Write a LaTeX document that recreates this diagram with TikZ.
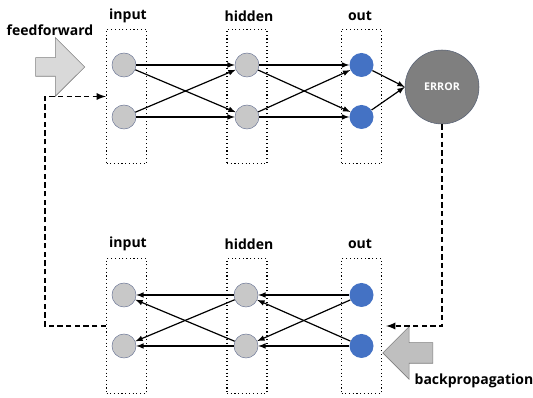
\documentclass[tikz,border=0pt]{standalone}
\usepackage{fontspec}
\setmainfont{Open Sans}
\usetikzlibrary{shapes.arrows}
\definecolor{nodegray}{RGB}{200,200,200}
\definecolor{nodeedge}{RGB}{115,125,155}
\definecolor{outblue}{RGB}{68,114,196}
\definecolor{errgray}{RGB}{127,127,127}
\definecolor{erredge}{RGB}{85,95,115}
\tikzset{
  layer/.style={draw,dotted,thick,minimum width=30pt,minimum height=101pt,inner sep=0pt},
  neuron/.style={circle,draw=nodeedge,fill=nodegray,minimum size=18pt,inner sep=0pt},
  outneuron/.style={circle,fill=outblue,minimum size=18pt,inner sep=0pt},
  title/.style={font=\bfseries\fontsize{10.5}{12}\selectfont},
  conn/.style={->,line width=0.9pt},
  flow/.style={->,dash pattern=on 4pt off 2.5pt,line width=1.4pt},
  bigarrow/.style={single arrow,draw=errgray,inner xsep=0pt,shape border uses incircle=false}
}
\begin{document}
\begin{tikzpicture}[>=latex,x=0.75pt,y=-0.75pt]
\useasboundingbox (0,0) rectangle (533,398);
% feedforward
\node[layer] (tin) at (126.5,96.5) {};
\node[layer] (thid) at (247,96.5) {};
\node[layer] (tout) at (361.5,96.5) {};
\node[title] at (128,16) {input};
\node[title] at (249,16) {hidden};
\node[title] at (360,16) {out};
\node[neuron] (ti1) at (124,65) {};
\node[neuron] (ti2) at (124,117) {};
\node[neuron] (th1) at (247,65) {};
\node[neuron] (th2) at (247,117) {};
\node[outneuron] (to1) at (361.5,65) {};
\node[outneuron] (to2) at (361.5,117) {};
\node[circle,draw=erredge,fill=errgray,minimum size=55.5pt,inner sep=0pt,
  text=white,font=\bfseries\fontsize{8}{9}\selectfont] (err) at (442,87) {ERROR};
\foreach \a in {1,2}{
  \foreach \b in {1,2}{
    \draw[conn] (ti\a) -- (th\b);
    \draw[conn] (th\a) -- (to\b);
  }
  \draw[conn] (to\a) -- (err.west);
}
\node[title] at (50,30) {feedforward};
\node[bigarrow,fill=gray!30,minimum height=36.75pt,
  inner ysep=6.75pt,single arrow head extend=15pt] (ffarrow) at (55.5,67) {};
% backpropagation
\node[layer] (bin) at (126.5,326) {};
\node[layer] (bhid) at (247,326) {};
\node[layer] (bout) at (361.5,326) {};
\node[title] at (128,244) {input};
\node[title] at (249,244) {hidden};
\node[title] at (360,244) {out};
\node[neuron] (bi1) at (124,295) {};
\node[neuron] (bi2) at (124,346) {};
\node[neuron] (bh1) at (246,295) {};
\node[neuron] (bh2) at (246,346) {};
\node[outneuron] (bo1) at (361.5,295) {};
\node[outneuron] (bo2) at (361.5,346) {};
\foreach \a in {1,2}{
  \foreach \b in {1,2}{
    \draw[conn] (bo\a) -- (bh\b);
    \draw[conn] (bh\a) -- (bi\b);
  }
}
\node[title] at (474,381) {backpropagation};
\node[bigarrow,fill=gray!50,minimum height=37.5pt,
  inner ysep=7.5pt,single arrow head extend=12pt,shape border rotate=180] (bparrow) at (413,353) {};
% loop
\draw[flow,shorten >=3pt] (err.south) |- (bout.east);
\coordinate (turn) at (45,326);
\draw[flow] (bin.west) -- (turn) |- (tin.west);
\end{tikzpicture}
\end{document}
